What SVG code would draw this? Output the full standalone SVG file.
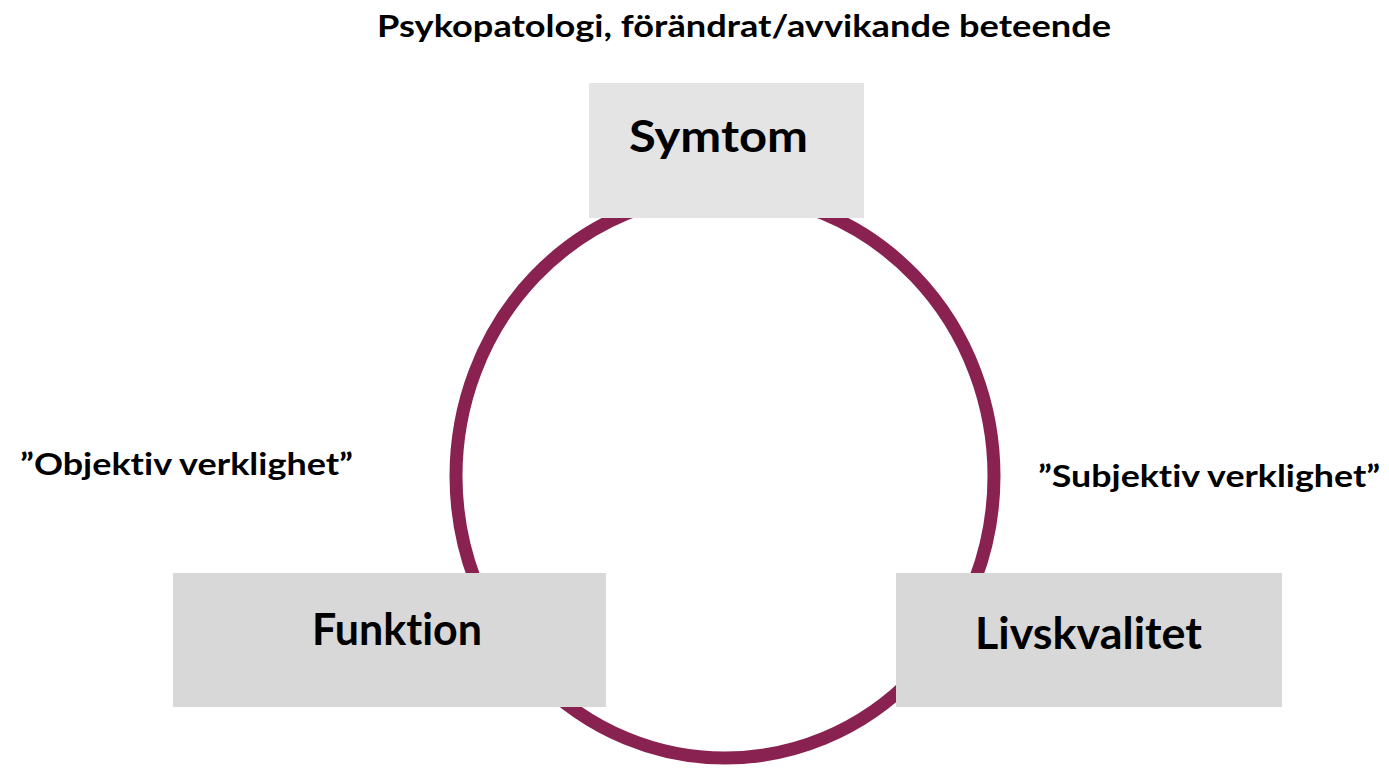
<svg xmlns="http://www.w3.org/2000/svg" width="1389" height="771" viewBox="0 0 1389 771">
<style>
.t{font-family:Lato,"Liberation Sans",sans-serif;font-weight:700;fill:#000;font-variant-ligatures:none;font-feature-settings:"liga" 0}
.lbl{font-size:30px}
.nt{font-size:44px}
.box{fill:#d8d8d8}
</style>
<rect width="1389" height="771" fill="#fff"/>
<g id="connectors">
<ellipse cx="725" cy="476" rx="269" ry="282" fill="none" stroke="#8a2251" stroke-width="13"/>
</g>
<text id="title" class="t lbl" x="377" y="37" textLength="734" lengthAdjust="spacingAndGlyphs">Psykopatologi, förändrat/avvikande beteende</text>
<text id="objektiv" class="t lbl" x="20" y="475" textLength="333" lengthAdjust="spacingAndGlyphs">”Objektiv verklighet”</text>
<text id="subjektiv" class="t lbl" x="1038" y="487" textLength="342" lengthAdjust="spacingAndGlyphs">”Subjektiv verklighet”</text>
<g id="symtom">
<rect x="589" y="83" width="275" height="135" fill="#e4e4e4"/>
<text class="t nt" x="629" y="152" font-size="42" textLength="179" lengthAdjust="spacingAndGlyphs">Symtom</text>
</g>
<g id="funktion">
<rect class="box" x="173" y="573" width="433" height="134"/>
<text class="t nt" x="312" y="645" textLength="170" lengthAdjust="spacingAndGlyphs">Funktion</text>
</g>
<g id="livskvalitet">
<rect class="box" x="896" y="573" width="386" height="134"/>
<text class="t nt" x="975" y="649" textLength="227" lengthAdjust="spacingAndGlyphs">Livskvalitet</text>
</g>
</svg>
